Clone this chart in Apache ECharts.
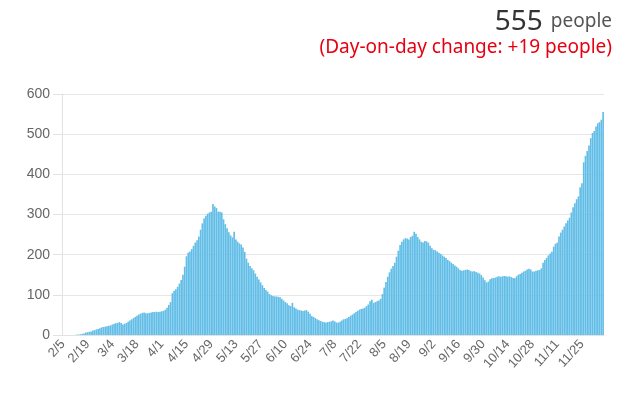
<!DOCTYPE html>
<html>
<head>
<meta charset="utf-8">
<script src="https://cdn.jsdelivr.net/npm/echarts@6/dist/echarts.min.js"></script>
<style>
html,body{margin:0;padding:0;background:#fff;}
#chart{width:642px;height:404px;}
</style>
</head>
<body>
<div id="chart"></div>
<script>
// Categories: daily dates from 2/5 to 12/7
var startMonth = 2, startDay = 5, dayCount = 307;
var categories = [];
(function(){
  var d = new Date(2020, startMonth - 1, startDay);
  for (var i = 0; i < dayCount; i++) {
    categories.push((d.getMonth() + 1) + '/' + d.getDate());
    d.setDate(d.getDate() + 1);
  }
})();

var values = [
  0,0,0,0,0,0,0,0,1,1,
  2,3,4,6,7,8,9,11,12,14,
  15,17,19,20,21,22,23,24,26,28,
  29,30,32,30,26,28,30,33,36,39,
  42,45,48,51,53,55,56,54,54,55,
  56,57,57,58,57,58,59,60,63,68,
  75,82,104,110,114,120,128,137,150,170,
  196,205,208,214,222,230,236,245,262,278,
  290,297,302,305,307,326,320,316,307,307,
  305,288,276,266,256,248,243,257,238,232,
  228,225,218,207,190,180,172,166,161,153,
  145,138,131,124,117,112,108,102,99,97,
  96,96,95,94,90,86,82,79,74,72,
  80,69,66,63,62,61,60,61,62,58,
  53,47,45,42,39,37,35,33,32,31,
  32,33,34,36,34,31,31,33,36,39,
  40,42,45,48,51,54,57,60,63,65,
  66,68,72,76,84,88,80,82,84,86,
  90,102,118,132,145,156,165,172,180,195,
  210,224,232,238,241,240,238,244,247,257,
  252,244,238,232,230,234,233,230,222,216,
  212,211,208,205,202,198,195,192,187,184,
  180,177,173,170,166,162,160,161,162,163,
  162,159,158,159,157,155,153,149,143,136,
  131,133,139,141,142,143,145,146,145,146,
  147,146,145,146,144,142,141,146,150,152,
  155,158,160,163,165,163,158,158,160,161,
  162,166,180,187,192,198,203,207,220,227,
  230,245,255,262,270,278,285,292,305,318,
  328,338,345,368,378,430,446,458,472,490,
  503,508,519,527,530,536,555
];

var yTicks = [0, 100, 200, 300, 400, 500, 600];
var latestValue = '555';
var unitText = 'people';
var changeText = '(Day-on-day change: +19 people)';

var chart = echarts.init(document.getElementById('chart'), null, {renderer: 'canvas'});
chart.setOption({
  animation: false,
  backgroundColor: '#ffffff',
  grid: {left: 62, right: 38, top: 94, bottom: 69, containLabel: false},
  xAxis: {
    type: 'category',
    data: categories,
    boundaryGap: true,
    axisLine: {show: true, lineStyle: {color: '#e2e2e2'}},
    axisTick: {show: false},
    axisLabel: {
      interval: 13,
      rotate: 48,
      color: '#666',
      fontSize: 13,
      fontFamily: 'Liberation Sans, Arial, sans-serif',
      margin: 7
    },
    splitLine: {show: false}
  },
  yAxis: {
    type: 'value',
    min: yTicks[0],
    max: yTicks[yTicks.length - 1],
    interval: 100,
    axisLine: {show: true, lineStyle: {color: '#e2e2e2'}},
    axisTick: {show: true, length: 9, lineStyle: {color: '#e2e2e2'}},
    axisLabel: {
      color: '#666',
      fontSize: 14,
      fontFamily: 'Liberation Sans, Arial, sans-serif',
      margin: 12
    },
    splitLine: {show: true, lineStyle: {color: '#e6e6e6'}}
  },
  series: [{
    type: 'bar',
    data: values,
    barCategoryGap: '6%',
    itemStyle: {color: '#63bee7'}
  }],
  graphic: [
    {
      type: 'text',
      right: 30,
      top: 8,
      style: {
        text: '{num|' + latestValue + '}{unit|' + unitText + '}',
        rich: {
          num: {fontSize: 28, fill: '#333', fontFamily: 'Noto Sans, sans-serif', padding: [0, 8, 0, 0]},
          unit: {fontSize: 19, fill: '#555', fontFamily: 'Noto Sans, sans-serif'}
        }
      }
    },
    {
      type: 'text',
      right: 30,
      top: 38,
      style: {
        text: changeText,
        fontSize: 19,
        fill: '#e60012',
        fontFamily: 'Noto Sans, sans-serif'
      }
    }
  ]
});
</script>
</body>
</html>
